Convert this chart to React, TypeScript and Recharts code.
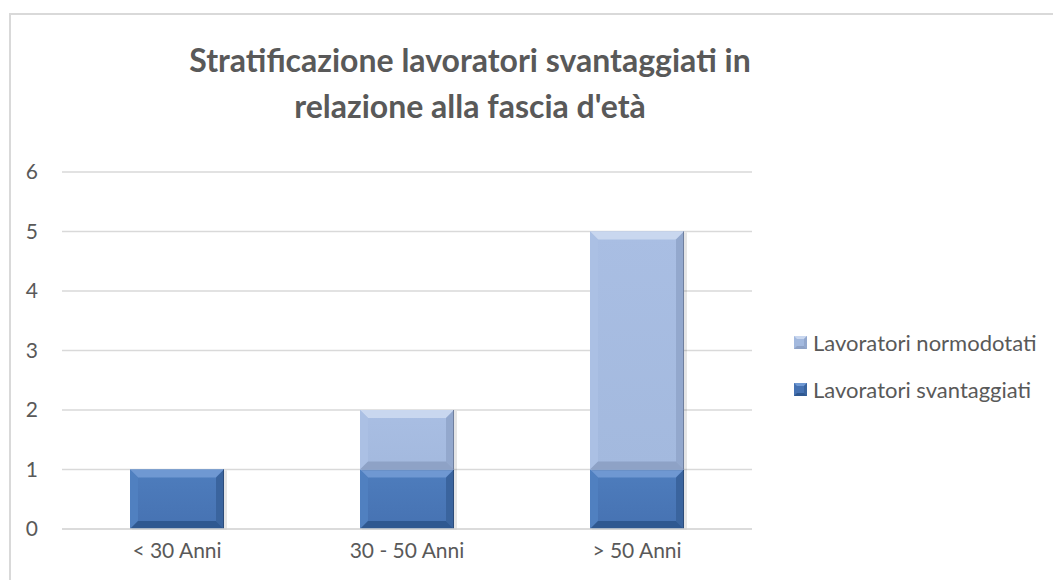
import React from 'react';
import { BarChart, Bar, XAxis, YAxis, CartesianGrid } from 'recharts';

const categories = ['< 30 Anni', '30 - 50 Anni', '> 50 Anni'];
const svantaggiati = [1, 1, 1];
const normodotati = [0, 1, 4];
const yTicks = [0, 1, 2, 3, 4, 5, 6];
const titleLines = ['Stratificazione lavoratori svantaggiati in', "relazione alla fascia d'età"];
const seriesNames = { sv: 'Lavoratori svantaggiati', no: 'Lavoratori normodotati' };

const data = categories.map((c, i) => ({ cat: c, sv: svantaggiati[i], no: normodotati[i] }));

const FONT = 'Lato, "Open Sans", sans-serif';
const TEXT = '#595959';

type Pal = { face: string; faceTop: string; top: string; left: string; right: string; bottom: string; edge: string };
const DARK: Pal = { face: '#4672b2', faceTop: '#4e7dbd', top: '#6f98d2', left: '#5080c0', right: '#3a649e', bottom: '#2f5890', edge: '#2c4c7a' };
const LIGHT: Pal = { face: '#a3b9de', faceTop: '#a9bee3', top: '#c9d7ef', left: '#abc0e4', right: '#93a8cd', bottom: '#8ea2c6', edge: '#6f7f9e' };

const makeShape = (pal: Pal, id: string) => (props: any) => {
  const { x, y, width, height } = props;
  if (!height || height <= 0) return null;
  const b = Math.min(8, height / 2, width / 2);
  const x2 = x + width;
  const y2 = y + height;
  const gid = `g-${id}-${Math.round(x)}-${Math.round(y)}`;
  return (
    <g>
      <defs>
        <linearGradient id={gid} x1="0" y1="0" x2="0" y2="1">
          <stop offset="0" stopColor={pal.faceTop} />
          <stop offset="1" stopColor={pal.face} />
        </linearGradient>
      </defs>
      <rect x={x + 2} y={y + 1} width={width + 1} height={height} fill="#000" opacity={0.1} />
      <rect x={x} y={y} width={width} height={height} fill={`url(#${gid})`} />
      <polygon points={`${x},${y} ${x2},${y} ${x2 - b},${y + b} ${x + b},${y + b}`} fill={pal.top} />
      <polygon points={`${x},${y} ${x + b},${y + b} ${x + b},${y2 - b} ${x},${y2}`} fill={pal.left} />
      <polygon points={`${x2},${y} ${x2},${y2} ${x2 - b},${y2 - b} ${x2 - b},${y + b}`} fill={pal.right} />
      <polygon points={`${x},${y2} ${x + b},${y2 - b} ${x2 - b},${y2 - b} ${x2},${y2}`} fill={pal.bottom} />
      <line x1={x2 - 0.5} y1={y} x2={x2 - 0.5} y2={y2} stroke={pal.edge} strokeWidth={1} />
    </g>
  );
};

const DarkShape = makeShape(DARK, 'sv');
const LightShape = makeShape(LIGHT, 'no');

const Marker = ({ pal }: { pal: Pal }) => (
  <svg width={13} height={13} style={{ display: 'block' }}>
    <rect x={0} y={0} width={13} height={13} fill={pal.face} />
    <polygon points="0,0 13,0 10,3 3,3" fill={pal.top} />
    <polygon points="13,0 13,13 10,10 10,3" fill={pal.right} />
    <polygon points="0,13 3,10 10,10 13,13" fill={pal.bottom} />
  </svg>
);

const legendItems = [
  { name: seriesNames.no, pal: LIGHT },
  { name: seriesNames.sv, pal: DARK },
];

export default function App() {
  return (
    <div style={{ position: 'fixed', left: 0, top: 0, width: 1053, height: 580, overflow: 'hidden', background: '#fff' }}>
      <div style={{ position: 'absolute', left: 9, top: 13, width: 1100, height: 640, border: '2px solid #d9d9d9', boxSizing: 'border-box' }} />
      <div
        style={{
          position: 'absolute',
          left: 70,
          width: 800,
          top: 37,
          textAlign: 'center',
          fontFamily: FONT,
          fontWeight: 700,
          fontSize: 32,
          lineHeight: '46px',
          color: TEXT,
        }}
      >
        {titleLines.map((l) => (
          <div key={l}>{l}</div>
        ))}
      </div>
      <div style={{ position: 'absolute', left: 0, top: 0 }}>
        <BarChart width={1053} height={580} data={data} margin={{ top: 172, right: 301, bottom: 21, left: 0 }} barSize={94}>
          <CartesianGrid vertical={false} stroke="#d9d9d9" strokeWidth={1.5} />
          <XAxis
            dataKey="cat"
            height={30}
            axisLine={{ stroke: '#d9d9d9', strokeWidth: 1.5 }}
            tickLine={false}
            tickSize={0}
            tickMargin={14}
            tick={{ fill: TEXT, fontSize: 21, fontFamily: FONT }}
          />
          <YAxis
            width={62}
            domain={[0, 6]}
            ticks={yTicks}
            axisLine={false}
            tickLine={false}
            tickSize={0}
            tickMargin={24}
            tick={{ fill: TEXT, fontSize: 21, fontFamily: FONT }}
          />
          <Bar dataKey="sv" name={seriesNames.sv} stackId="a" shape={DarkShape} isAnimationActive={false} />
          <Bar dataKey="no" name={seriesNames.no} stackId="a" shape={LightShape} isAnimationActive={false} />
        </BarChart>
      </div>
      <div style={{ position: 'absolute', left: 794, top: 319, fontFamily: FONT, color: TEXT }}>
        {legendItems.map((it) => (
          <div key={it.name} style={{ display: 'flex', alignItems: 'center', height: 47 }}>
            <Marker pal={it.pal} />
            <span style={{ marginLeft: 6, fontSize: 22, whiteSpace: 'nowrap' }}>{it.name}</span>
          </div>
        ))}
      </div>
    </div>
  );
}
